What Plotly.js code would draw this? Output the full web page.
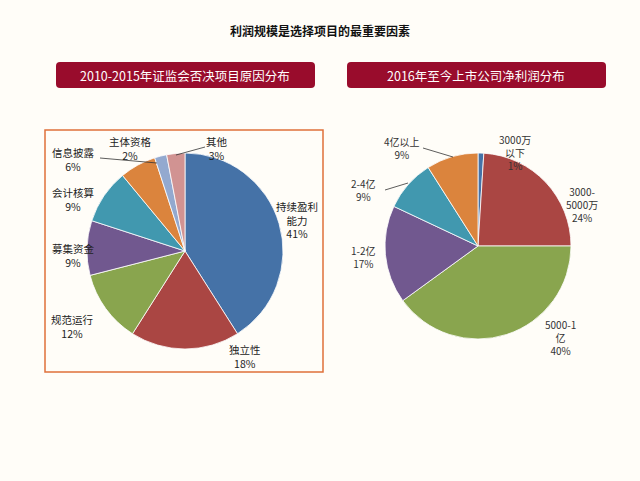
<!DOCTYPE html>
<html>
<head>
<meta charset="utf-8">
<script src="https://cdn.plot.ly/plotly-3.0.1.min.js"></script>
<style>
  html, body { margin: 0; padding: 0; background: #fffdf8; }
  #chart { width: 640px; height: 481px; }
</style>
</head>
<body>
<div id="chart"></div>
<script>
// 左：否决原因
const reasonLabels = ['持续盈利能力', '独立性', '规范运行', '募集资金', '会计核算', '信息披露', '主体资格', '其他'];
const reasonText = ['持续盈利<br>能力', '独立性', '规范运行', '募集资金', '会计核算', '信息披露', '主体资格', '其他'];
const reasonValues = [41, 18, 12, 9, 9, 6, 2, 3];

// 右：净利润分布
const profitLabels = ['3000万以下', '3000-5000万', '5000-1亿', '1-2亿', '2-4亿', '4亿以上'];
const profitText = ['3000万<br>以下', '3000-<br>5000万', '5000-1<br>亿', '1-2亿', '2-4亿', '4亿以上'];
const profitValues = [1, 24, 40, 17, 9, 9];

const colors = ['#4572A7', '#AA4643', '#89A54E', '#71588F', '#4198AF', '#DB843D', '#93A9CF', '#D19392'];

const W = 640, H = 481;
const px = x => x / W;
const py = y => 1 - y / H;

// ラベル位置（ピクセル）
const reasonPos = [[297, 220], [245, 356], [72, 326], [73, 255], [73, 199], [73, 159], [130, 148], [217, 148]];
const profitPos = [[515, 153], [582, 205], [560, 337], [363, 257], [363, 190], [402, 148]];

function pieTrace(labels, values, cx, cy, r) {
  return {
    type: 'pie',
    labels: labels,
    values: values,
    sort: false,
    direction: 'clockwise',
    rotation: 0,
    textinfo: 'none',
    hoverinfo: 'skip',
    marker: { colors: colors.slice(0, values.length), line: { color: '#ffffff', width: 0.8 } },
    domain: { x: [px(cx - r), px(cx + r)], y: [py(cy + r), py(cy - r)] }
  };
}

function label(x, y, text, font) {
  return { xref: 'paper', yref: 'paper', x: px(x), y: py(y), xanchor: 'center', yanchor: 'middle',
    text: text, showarrow: false, font: font };
}

const annotations = [];
reasonText.forEach((t, i) => {
  annotations.push(label(reasonPos[i][0], reasonPos[i][1], t + '<br>' + reasonValues[i] + '%',
    { family: 'Noto Sans CJK SC, sans-serif', size: 10.5, color: '#222' }));
});
profitText.forEach((t, i) => {
  annotations.push(label(profitPos[i][0], profitPos[i][1], t + '<br>' + profitValues[i] + '%',
    { family: 'Noto Sans CJK SC, serif', size: 10, color: '#333' }));
});

annotations.push(
  label(320, 30, '<b>利润规模是选择项目的最重要因素</b>', { family: 'Noto Sans CJK SC', size: 12, color: '#111' }),
  label(185, 75, '2010-2015年证监会否决项目原因分布', { family: 'Noto Sans CJK SC', size: 12.5, color: '#ffffff' }),
  label(476, 75, '2016年至今上市公司净利润分布', { family: 'Noto Sans CJK SC', size: 12.5, color: '#ffffff' })
);

function roundRect(x0, y0, x1, y1, r) {
  const X = v => px(v), Y = v => py(v);
  return `M ${X(x0 + r)} ${Y(y0)} L ${X(x1 - r)} ${Y(y0)} Q ${X(x1)} ${Y(y0)} ${X(x1)} ${Y(y0 + r)} ` +
    `L ${X(x1)} ${Y(y1 - r)} Q ${X(x1)} ${Y(y1)} ${X(x1 - r)} ${Y(y1)} L ${X(x0 + r)} ${Y(y1)} ` +
    `Q ${X(x0)} ${Y(y1)} ${X(x0)} ${Y(y1 - r)} L ${X(x0)} ${Y(y0 + r)} Q ${X(x0)} ${Y(y0)} ${X(x0 + r)} ${Y(y0)} Z`;
}

const shapes = [
  { type: 'path', xref: 'paper', yref: 'paper', path: roundRect(56, 62, 315, 88, 4), fillcolor: '#990c2c', line: { width: 0 } },
  { type: 'path', xref: 'paper', yref: 'paper', path: roundRect(347, 62, 606, 88, 4), fillcolor: '#990c2c', line: { width: 0 } },
  { type: 'rect', xref: 'paper', yref: 'paper', x0: px(45), x1: px(323), y0: py(372), y1: py(130),
    line: { color: '#E0703A', width: 1.5 }, fillcolor: 'rgba(0,0,0,0)' },
  // 引き出し線
  { type: 'line', xref: 'paper', yref: 'paper', x0: px(100), y0: py(158), x1: px(157), y1: py(163), line: { color: '#333', width: 0.8 } },
  { type: 'line', xref: 'paper', yref: 'paper', x0: px(205), y0: py(147), x1: px(176), y1: py(155), line: { color: '#333', width: 0.8 } },
  { type: 'line', xref: 'paper', yref: 'paper', x0: px(423), y0: py(148), x1: px(453), y1: py(157), line: { color: '#333', width: 0.8 } },
  { type: 'line', xref: 'paper', yref: 'paper', x0: px(385), y0: py(190), x1: px(408), y1: py(183), line: { color: '#333', width: 0.8 } }
];

const layout = {
  width: W, height: H,
  margin: { l: 0, r: 0, t: 0, b: 0 },
  paper_bgcolor: '#fffdf8',
  showlegend: false,
  annotations: annotations,
  shapes: shapes
};

Plotly.newPlot('chart', [
  pieTrace(reasonLabels, reasonValues, 185, 251, 98),
  pieTrace(profitLabels, profitValues, 478, 246, 93)
], layout, { staticPlot: true });
</script>
</body>
</html>
